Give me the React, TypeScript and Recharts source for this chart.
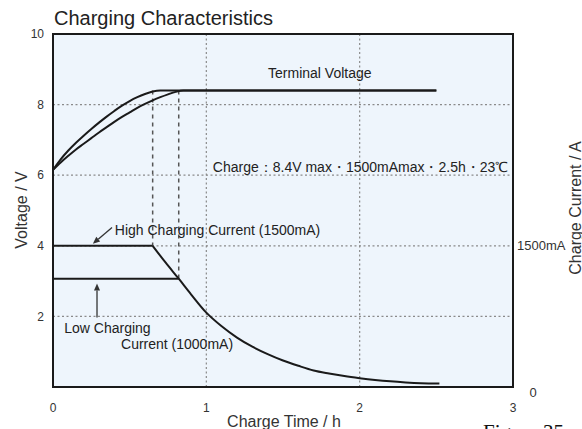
import React from "react";
import { LineChart, Line, XAxis, YAxis, CartesianGrid, ReferenceLine, ReferenceDot, ReferenceArea } from "recharts";

const timeTicks = [0, 1, 2, 3];
const voltageTicks = [2, 4, 6, 8, 10];
const currentTicks = [0, 1500];

// terminal voltage, high charging current (reaches 8.4V first)
const voltageHigh = [
  { t: 0, v: 6.15 }, { t: 0.05, v: 6.45 }, { t: 0.1, v: 6.7 }, { t: 0.15, v: 6.92 },
  { t: 0.2, v: 7.12 }, { t: 0.25, v: 7.31 }, { t: 0.3, v: 7.49 }, { t: 0.35, v: 7.66 },
  { t: 0.4, v: 7.82 }, { t: 0.45, v: 7.97 }, { t: 0.5, v: 8.1 }, { t: 0.55, v: 8.21 },
  { t: 0.6, v: 8.3 }, { t: 0.65, v: 8.37 }, { t: 0.7, v: 8.4 }, { t: 2.5, v: 8.4 },
];

// terminal voltage, low charging current
const voltageLow = [
  { t: 0, v: 6.15 }, { t: 0.05, v: 6.36 }, { t: 0.1, v: 6.55 }, { t: 0.15, v: 6.73 },
  { t: 0.2, v: 6.89 }, { t: 0.25, v: 7.05 }, { t: 0.3, v: 7.21 }, { t: 0.35, v: 7.36 },
  { t: 0.4, v: 7.51 }, { t: 0.45, v: 7.65 }, { t: 0.5, v: 7.78 }, { t: 0.55, v: 7.91 },
  { t: 0.6, v: 8.02 }, { t: 0.65, v: 8.12 }, { t: 0.7, v: 8.21 }, { t: 0.75, v: 8.29 },
  { t: 0.8, v: 8.36 }, { t: 0.85, v: 8.4 }, { t: 2.5, v: 8.4 },
];

const currentHighFlat = [{ t: 0, mA: 1500 }, { t: 0.65, mA: 1500 }];
const currentLowFlat = [{ t: 0, mA: 1150 }, { t: 0.82, mA: 1150 }];

const currentTaper = [
  { t: 0.65, mA: 1500 }, { t: 0.735, mA: 1320 }, { t: 0.82, mA: 1150 }, { t: 0.9, mA: 985 },
  { t: 1.0, mA: 790 }, { t: 1.1, mA: 645 }, { t: 1.2, mA: 525 }, { t: 1.3, mA: 428 },
  { t: 1.4, mA: 349 }, { t: 1.5, mA: 281 }, { t: 1.6, mA: 225 }, { t: 1.7, mA: 175 },
  { t: 1.8, mA: 143 }, { t: 1.9, mA: 116 }, { t: 2.0, mA: 94 }, { t: 2.1, mA: 75 },
  { t: 2.2, mA: 60 }, { t: 2.3, mA: 49 }, { t: 2.4, mA: 41 }, { t: 2.52, mA: 37 },
];

const ink = "#1a1a1a";

const Arrow = (props: any) => {
  const { x1, y1, x2, y2 } = props;
  const a = Math.atan2(y2 - y1, x2 - x1);
  const len = 7;
  const w = 3;
  const bx = x2 - len * Math.cos(a);
  const by = y2 - len * Math.sin(a);
  const pts = `${x2},${y2} ${bx + w * Math.sin(a)},${by - w * Math.cos(a)} ${bx - w * Math.sin(a)},${by + w * Math.cos(a)}`;
  return (
    <g>
      <line x1={x1} y1={y1} x2={bx} y2={by} stroke="#333" strokeWidth={1.3} />
      <polygon points={pts} fill="#333" />
    </g>
  );
};

const RightTick = ({ x, y, payload }: any) =>
  payload.value === 0 ? (
    <text x={x + 18} y={y + 5} style={{ fontSize: 13 }} fill="#333" textAnchor="middle" dominantBaseline="central">0</text>
  ) : (
    <text x={x + 2} y={y} style={{ fontSize: 13 }} fill="#333" textAnchor="start" dominantBaseline="central">1500mA</text>
  );

const note = (value: string) => ({ value, position: "center" as const, fill: "#222", fontSize: 14 });

export default function App() {
  return (
    <div style={{ position: "absolute", left: 0, top: 0, width: 582, height: 429, background: "#fff", overflow: "hidden", fontFamily: "'Liberation Sans', Arial, sans-serif" }}>
      <LineChart width={582} height={429} margin={{ top: 34, right: 0, bottom: 0, left: 0 }}>
        <CartesianGrid yAxisId="v" fill="#EEF5FC" fillOpacity={1} stroke="#8a8a8a" strokeWidth={1.2} strokeDasharray="2 2.5" />
        <XAxis dataKey="t" type="number" domain={[0, 3]} ticks={timeTicks} height={42}
          axisLine={false} tickLine={false} tickSize={0} tickMargin={16} tick={{ fontSize: 12, fill: "#333" }} />
        <YAxis yAxisId="v" type="number" domain={[0, 10]} ticks={voltageTicks} width={53}
          axisLine={false} tickLine={false} tickSize={0} tickMargin={9} tick={{ fontSize: 12, fill: "#333" }} />
        <YAxis yAxisId="mA" orientation="right" type="number" domain={[0, 3750]} ticks={currentTicks} width={69}
          axisLine={false} tickLine={false} tickSize={0} tickMargin={2} tick={<RightTick />} />

        <ReferenceLine yAxisId="v" segment={[{ x: 0.65, y: 8.4 }, { x: 0.65, y: 4 }]} stroke="#555" strokeWidth={1.5} strokeDasharray="4 4" />
        <ReferenceLine yAxisId="v" segment={[{ x: 0.82, y: 8.4 }, { x: 0.82, y: 3.07 }]} stroke="#555" strokeWidth={1.5} strokeDasharray="4 4" />

        <Line yAxisId="v" data={voltageHigh} dataKey="v" type="monotone" stroke={ink} strokeWidth={2} dot={false} activeDot={false} isAnimationActive={false} />
        <Line yAxisId="v" data={voltageLow} dataKey="v" type="monotone" stroke={ink} strokeWidth={2} dot={false} activeDot={false} isAnimationActive={false} />
        <Line yAxisId="mA" data={currentHighFlat} dataKey="mA" type="linear" stroke={ink} strokeWidth={2} dot={false} activeDot={false} isAnimationActive={false} />
        <Line yAxisId="mA" data={currentLowFlat} dataKey="mA" type="linear" stroke={ink} strokeWidth={2} dot={false} activeDot={false} isAnimationActive={false} />
        <Line yAxisId="mA" data={currentTaper} dataKey="mA" type="monotone" stroke={ink} strokeWidth={2} dot={false} activeDot={false} isAnimationActive={false} />

        <ReferenceLine yAxisId="v" segment={[{ x: 0.385, y: 4.52 }, { x: 0.26, y: 4.06 }]} shape={Arrow} />
        <ReferenceLine yAxisId="v" segment={[{ x: 0.287, y: 1.97 }, { x: 0.287, y: 2.93 }]} shape={Arrow} />

        <ReferenceDot yAxisId="v" x={1.74} y={8.9} r={0} fill="none" stroke="none" label={note("Terminal Voltage")} />
        <ReferenceDot yAxisId="v" x={2.006} y={6.24} r={0} fill="none" stroke="none" label={note("Charge：8.4V max・1500mAmax・2.5h・23℃")} />
        <ReferenceDot yAxisId="v" x={1.073} y={4.46} r={0} fill="none" stroke="none" label={note("High Charging Current (1500mA)")} />
        <ReferenceDot yAxisId="v" x={0.355} y={1.67} r={0} fill="none" stroke="none" label={note("Low Charging")} />
        <ReferenceDot yAxisId="v" x={0.809} y={1.21} r={0} fill="none" stroke="none" label={note("Current (1000mA)")} />

        <ReferenceArea yAxisId="v" x1={0} x2={3} y1={0} y2={10} fill="none" stroke={ink} strokeWidth={2} />
      </LineChart>

      <svg width={582} height={429} style={{ position: "absolute", left: 0, top: 0, pointerEvents: "none" }}>
        <text x={54} y={25} fontSize={20} fill="#222">Charging Characteristics</text>
        <text transform="translate(21,210) rotate(-90)" fontSize={16} fill="#333" textAnchor="middle" dominantBaseline="central">Voltage / V</text>
        <text transform="translate(575,208) rotate(-90)" fontSize={16} fill="#333" textAnchor="middle" dominantBaseline="central">Charge Current / A</text>
        <text x={284} y={421} fontSize={16} fill="#333" textAnchor="middle" dominantBaseline="central">Charge Time / h</text>
        <text x={483} y={439} fontSize={21} fill="#111" fontFamily="'Liberation Serif', 'Times New Roman', serif">Figure 35</text>
      </svg>
    </div>
  );
}
